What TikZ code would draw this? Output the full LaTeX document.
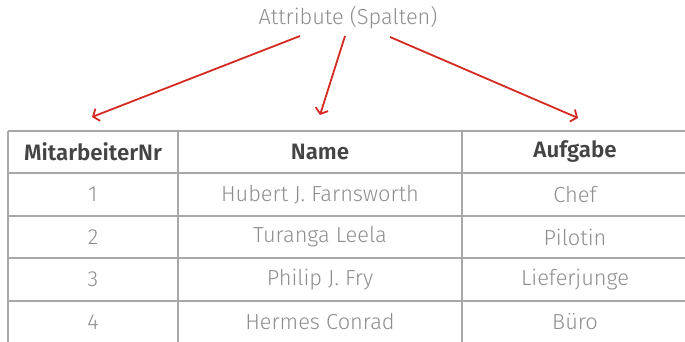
\documentclass[tikz,border=0pt]{standalone}
\usepackage{fontspec}
\setmainfont{Fira Sans}[UprightFont={* Light},BoldFont={* SemiBold}]
\usetikzlibrary{arrows,arrows.meta,positioning}
\definecolor{linegray}{HTML}{A8A8A8}
\definecolor{textgray}{HTML}{8E8E8E}
\definecolor{headgray}{HTML}{444444}
\definecolor{arrowred}{HTML}{D42A22}

\begin{document}
\begin{tikzpicture}[x=1pt,y=-1pt]
\tikzstyle{cell}=[font=\fontsize{21.8}{24}\selectfont, text=textgray, inner sep=0pt]
\tikzstyle{head}=[cell, font=\fontsize{22.3}{24}\selectfont\bfseries, text=headgray]
\tikzstyle{grid}=[draw=linegray, line width=1.4pt]
\tikzstyle{pointer}=[-{Straight Barb[length=5pt,width=13pt]}, draw=arrowred, line width=1.8pt]
\useasboundingbox (0,0) rectangle (685,342);

% table lines
\draw[grid] (8,131) -- (685,131)
            (8,173) -- (685,173)
            (8,216) -- (685,216)
            (8,258) -- (685,258)
            (8,301) -- (685,301);
\draw[grid] (8,131) -- (8,342)
            (178,131) -- (178,342)
            (462,131) -- (462,342);

\node[cell]  (title) at (348,18) {Attribute (Spalten)};

\node[head]  (nr)   at (93,152) {MitarbeiterNr};
\node[head]  (name) [right of=nr, node distance=227pt] {Name};
\node[head]  (job)  [right of=name, node distance=255pt] {Aufgabe};

\node[cell]  (nr1)   [below of=nr, node distance=42.5pt] {1};
\node[cell]  (nr2)   [below of=nr1, node distance=42.5pt] {2};
\node[cell]  (nr3)   [below of=nr2, node distance=42.5pt] {3};
\node[cell]  (nr4)   [below of=nr3, node distance=42.5pt] {4};
\node[cell]  (name1) [below of=name, node distance=42.5pt] {Hubert J. Farnsworth};
\node[cell]  (name2) [below of=name1, node distance=42.5pt] {Turanga Leela};
\node[cell]  (name3) [below of=name2, node distance=42.5pt] {Philip J. Fry};
\node[cell]  (name4) [below of=name3, node distance=42.5pt] {Hermes Conrad};
\node[cell]  (job1)  [below of=job, node distance=42.5pt] {Chef};
\node[cell]  (job2)  [below of=job1, node distance=42.5pt] {Pilotin};
\node[cell]  (job3)  [below of=job2, node distance=42.5pt] {Lieferjunge};
\node[cell]  (job4)  [below of=job3, node distance=42.5pt] {Büro};

% arrows to the columns
\coordinate (s1) at (300,36);
\coordinate (s2) at (345,36);
\coordinate (s3) at (390,37);
\coordinate (e1) at (92,117);
\coordinate (e2) at (320,115);
\coordinate (e3) at (578,118);
\draw[pointer] (s1) -- (e1);
\draw[pointer] (s2) -- (e2);
\draw[pointer] (s3) -- (e3);
\end{tikzpicture}
\end{document}
